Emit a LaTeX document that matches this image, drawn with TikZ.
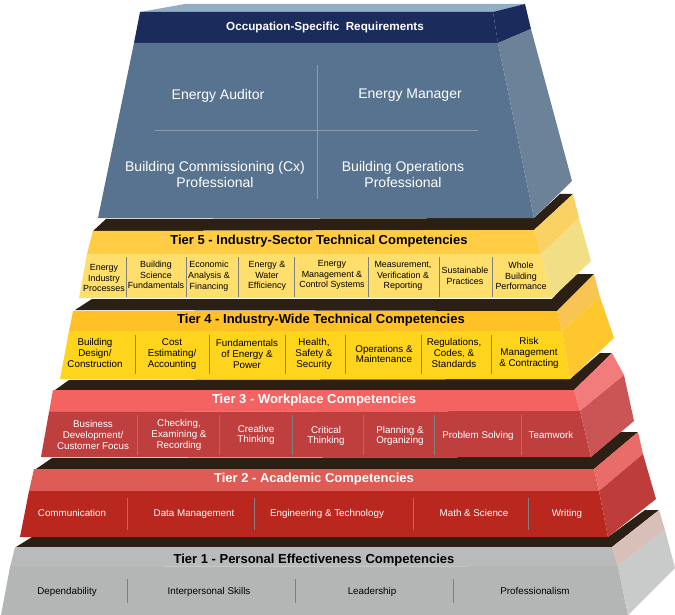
\documentclass[tikz,border=0pt]{standalone}
\usepackage{fontspec}
\setmainfont{Liberation Sans}
\definecolor{darkband}{HTML}{2B2013}
\definecolor{occtop}{HTML}{93AEC2}
\definecolor{occhead}{HTML}{1B2B5B}
\definecolor{occbody}{HTML}{58738F}
\definecolor{occside}{HTML}{6B8299}
\definecolor{occline}{HTML}{8A9DB0}
\definecolor{fivehead}{HTML}{FFCC44}
\definecolor{fivebody}{HTML}{FFDF6B}
\definecolor{fiveup}{HTML}{FAD264}
\definecolor{fivelow}{HTML}{F2DE85}
\definecolor{fourhead}{HTML}{FFC125}
\definecolor{fourbody}{HTML}{FFD41C}
\definecolor{fourup}{HTML}{F9C552}
\definecolor{fourlow}{HTML}{FFC72E}
\definecolor{threehead}{HTML}{F56262}
\definecolor{threebody}{HTML}{BF3F3F}
\definecolor{threeup}{HTML}{F27C7C}
\definecolor{threelow}{HTML}{CB5555}
\definecolor{twohead}{HTML}{DE5B56}
\definecolor{twobody}{HTML}{B9271E}
\definecolor{twoup}{HTML}{E96C68}
\definecolor{twolow}{HTML}{BE3D3A}
\definecolor{onehead}{HTML}{B9BABC}
\definecolor{onebody}{HTML}{B4B6B5}
\definecolor{oneup}{HTML}{D8BFB8}
\definecolor{onelow}{HTML}{C9CBCA}
\begin{document}
\begin{tikzpicture}[x=1pt, y=-1pt, line join=round,
	band/.style={fill=darkband},
	rule/.style={draw=gray, line width=0.8pt},
	head/.style={font=\fontsize{13}{15}\bfseries, inner sep=0pt, text height=9.4pt, text depth=0pt},
	cell/.style={font=\fontsize{9.8}{10.7}\selectfont, align=center, inner sep=0pt},
	oneline/.style={cell, text height=7pt, text depth=0pt},
	small/.style={font=\fontsize{8.9}{10.7}\selectfont, align=center, inner sep=0pt},
	job/.style={font=\fontsize{14}{16}\selectfont, align=center, inner sep=0pt, text=white}]
		\useasboundingbox (0,0) rectangle (675,615);

		\fill[band] (32,537)--(16,547)--(612,547)--(659,510)--(645,510)--(608,537)--cycle;
		\fill[onehead] (15,547)--(612,547)--(618,566)--(10,567)--cycle;
		\fill[onebody] (10,567)--(618,566)--(628,615)--(1,615)--cycle;
		\fill[oneup] (612,547)--(659,510)--(665,530)--(618,566)--cycle;
		\fill[onelow] (618,566)--(665,530)--(675,568)--(628,615)--cycle;

		\fill[band] (52,458)--(36,469)--(594,469)--(638,432)--(620,432)--(591,457)--cycle;
		\fill[twohead] (34,469)--(594,469)--(599,491)--(29,491)--cycle;
		\fill[twobody] (29,491)--(599,491)--(608,537)--(20,537)--cycle;
		\fill[twoup] (594,469)--(638,432)--(643,454)--(599,491)--cycle;
		\fill[twolow] (599,491)--(643,454)--(656,499)--(608,537)--cycle;

		\fill[band] (69,380)--(55,390)--(574,390)--(612,353)--(600,353)--(570,379)--cycle;
		\fill[threehead] (53,390)--(574,390)--(580,411)--(49,412)--cycle;
		\fill[threebody] (49,412)--(580,411)--(591,457)--(41,457)--cycle;
		\fill[threeup] (574,390)--(612,353)--(624,375)--(580,411)--cycle;
		\fill[threelow] (580,411)--(624,375)--(634,421)--(591,457)--cycle;

		\fill[band] (92,299)--(75,310)--(557,311)--(594,274)--(575,274)--(552,299)--cycle;
		\fill[fourhead] (73,311)--(557,311)--(562,331)--(69,331)--cycle;
		\fill[fourbody] (69,331)--(562,331)--(570,379)--(60,379)--cycle;
		\fill[fourup] (557,311)--(594,274)--(600,297)--(562,331)--cycle;
		\fill[fourlow] (562,331)--(600,297)--(614,338)--(570,379)--cycle;

		\fill[band] (106,219)--(93,231)--(534,230)--(573,194)--(560,194)--(534,218)--cycle;
		\fill[fivehead] (93,231)--(534,230)--(541,254)--(87,254)--cycle;
		\fill[fivebody] (87,254)--(541,254)--(552,298)--(79,298)--cycle;
		\fill[fiveup] (534,230)--(573,194)--(579,218)--(541,254)--cycle;
		\fill[fivelow] (541,254)--(579,218)--(591,261)--(552,298)--cycle;

		\fill[occtop] (140,12)--(185,4)--(525,4)--(493,12)--cycle;
		\fill[occhead] (140,12)--(493,12)--(498,43)--(134,43)--cycle;
		\fill[occhead] (493,12)--(525,4)--(531,29)--(498,43)--cycle;
		\fill[occbody] (134,43)--(498,43)--(534,218)--(98,218)--cycle;
		\fill[occside] (498,43)--(531,29)--(572,181)--(534,218)--cycle;

		\draw[occline, line width=0.7pt] (317,65)--(317,199);
		\draw[occline, line width=0.7pt] (155,130)--(478,130);

		\foreach \x in {126,186,238,294,368,439,492}
			\draw[rule] (\x,257)--(\x,297);
		\foreach \x in {135,209,285,345,421,491}
			\draw[rule] (\x,335)--(\x,374);
		\foreach \x in {137,219,292,363,434,521}
			\draw[rule] (\x,415)--(\x,455);
		\foreach \x in {127,254,413,528}
			\draw[rule] (\x,498)--(\x,530);
		\foreach \x in {127,295,453}
			\draw[rule] (\x,579)--(\x,603);

		\node[head, font=\fontsize{11.7}{15}\bfseries, text=white] (occ) at (325,26) {Occupation-Specific\ \ Requirements};
		\node[job, text height=10pt, text depth=0pt] (auditor) at (218,95) {Energy Auditor};
		\node[job, text height=10pt, text depth=0pt] (manager) at (410,94) {Energy Manager};
		\node[job] (commission) at (215,174) {Building Commissioning (Cx)\\Professional};
		\node[job] (operations) at (403,174) {Building Operations\\Professional};

		\node[head] (tier5) at (319,240) {Tier 5 - Industry-Sector Technical Competencies};
		\node[head] (tier4) at (321,319) {Tier 4 - Industry-Wide Technical Competencies};
		\node[head, text=white] (tier3) at (314,399) {Tier 3 - Workplace Competencies};
		\node[head, text=white] (tier2) at (314,478) {Tier 2 - Academic Competencies};
		\node[head] (tier1) at (314,559) {Tier 1 - Personal Effectiveness Competencies};

		\foreach \n/\x/\y/\t in {a/104/278/{Energy\\Industry\\Processes}, b/156/275/{Building\\Science\\Fundamentals}, c/209/276/{Economic\\Analysis \&\\Financing}, d/267/276/{Energy \&\\Water\\Efficiency}, e/332/275/{Energy\\Management \&\\Control Systems}, f/403/276/{Measurement,\\Verification \&\\Reporting}, g/465/276/{Sustainable\\Practices}, h/521/276/{Whole\\Building\\Performance}}
			\node[small] (five\n) at (\x,\y) {\t};
		\foreach \n/\x/\y/\t in {a/95/353/{Building\\Design/\\Construction}, b/172/354/{Cost\\Estimating/\\Accounting}, c/247/354/{Fundamentals\\of Energy \&\\Power}, d/314/354/{Health,\\Safety \&\\Security}, e/384/354/{Operations \&\\Maintenance}, f/454/353/{Regulations,\\Codes, \&\\Standards}, g/529/353/{Risk\\Management\\\& Contracting}}
			\node[cell] (four\n) at (\x,\y) {\t};
		\foreach \n/\x/\y/\t in {a/93/435/{Business\\Development/\\Customer Focus}, b/179/435/{Checking,\\Examining \&\\Recording}, c/256/435/{Creative\\Thinking}, d/326/436/{Critical\\Thinking}, e/400/436/{Planning \&\\Organizing}}
			\node[cell, text=white] (three\n) at (\x,\y) {\t};
		\foreach \n/\x/\t in {f/478/{Problem Solving}, g/551/{Teamwork}}
			\node[oneline, text=white] (three\n) at (\x,435) {\t};
		\foreach \n/\x/\t in {a/72/{Communication}, b/194/{Data Management}, c/327/{Engineering \& Technology}, d/474/{Math \& Science}, e/567/{Writing}}
			\node[oneline, text=white] (two\n) at (\x,513) {\t};
		\foreach \n/\x/\t in {a/67/{Dependability}, b/209/{Interpersonal Skills}, c/372/{Leadership}, d/535/{Professionalism}}
			\node[oneline] (one\n) at (\x,591) {\t};
	\end{tikzpicture}
\end{document}
